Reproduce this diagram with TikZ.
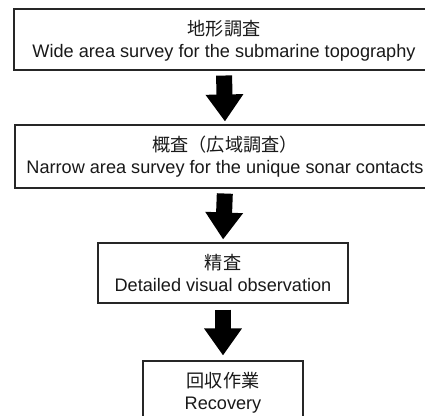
\documentclass[tikz,border=0pt]{standalone}
\usepackage{fontspec}
\setmainfont{Liberation Sans}
\newfontfamily\jpfont{Noto Sans CJK JP}
\usetikzlibrary{arrows.meta}
\begin{document}
\begin{tikzpicture}[x=0.75pt,y=-0.75pt,
  stage/.style={draw=black!85, line width=0.8pt, fill=white, inner sep=0pt},
  jpline/.style={anchor=base, inner sep=0pt, text=black!90,
    font=\jpfont\fontsize{13.6}{15}\selectfont, yshift=-20.55pt},
  enline/.style={anchor=base, inner sep=0pt, text=black!90,
    font=\fontsize{13.6}{15}\selectfont, yshift=-36.75pt},
  flow/.style={black, line width=12pt,
    -{Triangle[length=20.25pt,width=27pt]}}]
\useasboundingbox (0,0) rectangle (425,416);

% process stages, top to bottom
\node[stage, minimum width=315pt, minimum height=45.75pt] (topo) at (224,39.5) {};
\node[jpline] (topo-jp) at (topo.north) {地形調査};
\node[enline] (topo-en) at (topo.north) {Wide area survey for the submarine topography};

\node[stage, minimum width=315pt, minimum height=47.25pt] (wide) at (225,156.5) {};
\node[jpline] (wide-jp) at (wide.north) {概査（広域調査）};
\node[enline] (wide-en) at (wide.north) {Narrow area survey for the unique sonar contacts};

\node[stage, minimum width=187.5pt, minimum height=45pt] (detail) at (223,273) {};
\node[jpline] (detail-jp) at (detail.north) {精査};
\node[enline] (detail-en) at (detail.north) {Detailed visual observation};

\node[stage, minimum width=120pt, minimum height=52.5pt] (recov) at (223,396) {};
\node[jpline] (recov-jp) at (recov.north) {回収作業};
\node[enline] (recov-en) at (recov.north) {Recovery};

% block arrows between the stages
\draw[flow, shorten <=3.75pt, shorten >=2.25pt] (topo.south) -- (wide.north);
\draw[flow, shorten <=3.75pt, shorten >=2.25pt] (wide.south) -- (detail.north);
\draw[flow, shorten <=4.5pt, shorten >=3.75pt] (detail.south) -- (recov.north);
\end{tikzpicture}
\end{document}
